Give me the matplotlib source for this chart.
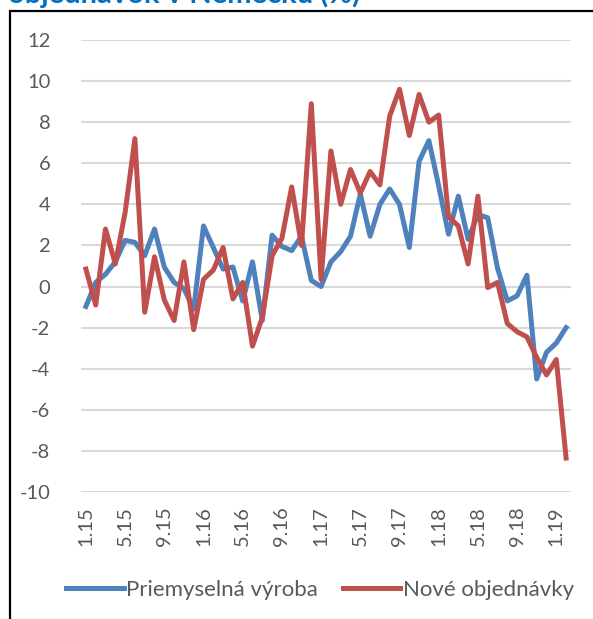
import numpy as np
import matplotlib
matplotlib.use('Agg')
import matplotlib.pyplot as plt
from matplotlib.patches import Rectangle

# Mesiace 1.15 - 2.19
months = ['1.15', '2.15', '3.15', '4.15', '5.15', '6.15', '7.15', '8.15', '9.15', '10.15', '11.15', '12.15',
          '1.16', '2.16', '3.16', '4.16', '5.16', '6.16', '7.16', '8.16', '9.16', '10.16', '11.16', '12.16',
          '1.17', '2.17', '3.17', '4.17', '5.17', '6.17', '7.17', '8.17', '9.17', '10.17', '11.17', '12.17',
          '1.18', '2.18', '3.18', '4.18', '5.18', '6.18', '7.18', '8.18', '9.18', '10.18', '11.18', '12.18',
          '1.19', '2.19']
tick_labels = ['1.15', '5.15', '9.15', '1.16', '5.16', '9.16', '1.17',
               '5.17', '9.17', '1.18', '5.18', '9.18', '1.19']

vyroba = [-0.97, 0.2, 0.6, 1.2, 2.25, 2.15, 1.5, 2.8, 0.95, 0.2,
          -0.1, -1.1, 2.95, 1.9, 0.85, 0.95, -0.7, 1.2, -1.65, 2.5,
          1.95, 1.75, 2.45, 0.3, 0.0, 1.2, 1.7, 2.45, 4.5, 2.45,
          4.0, 4.75, 4.0, 1.9, 6.1, 7.1, 4.9, 2.55, 4.4, 2.3,
          3.5, 3.35, 0.9, -0.7, -0.45, 0.55, -4.5, -3.2, -2.75, -2.0]
objednavky = [0.85, -0.9, 2.8, 1.1, 3.6, 7.2, -1.25, 1.45, -0.65, -1.65,
              1.2, -2.1, 0.35, 0.8, 1.9, -0.6, 0.2, -2.9, -1.5, 1.5,
              2.35, 4.85, 2.0, 8.9, 0.35, 6.6, 4.0, 5.7, 4.55, 5.6,
              4.95, 8.3, 9.6, 7.35, 9.35, 8.0, 8.35, 3.4, 2.95, 1.1,
              4.4, -0.05, 0.2, -1.8, -2.2, -2.45, -3.45, -4.3, -3.55, -8.35]

BLUE = '#4F81BD'
RED = '#C0504D'
GRAY = '#595959'

plt.rcParams['font.family'] = ['Lato', 'DejaVu Sans']
plt.rcParams['axes.unicode_minus'] = False

fig = plt.figure(figsize=(5.93, 6.19), dpi=100)
W, H = 593, 619

# ramcek grafu
fig.patches.append(Rectangle((10 / W, -0.1), 1.2, 1 - 11 / H + 0.1, transform=fig.transFigure,
                             fill=False, edgecolor='black', linewidth=1.6))

# odrezany nadpis (v originali je zhora orezany)
fig.text(8 / W, 1 - 3 / H, 'objednávok v Nemecku (%)', color='#0070C0', fontsize=21,
         fontweight='bold', ha='left', va='baseline')

ax = fig.add_axes([81 / W, 1 - 492 / H, 490 / W, 452 / H])
x = np.arange(len(months))
ax.plot(x, vyroba, color=BLUE, linewidth=3.6, label='Priemyselná výroba', solid_joinstyle='round')
ax.plot(x, objednavky, color=RED, linewidth=3.6, label='Nové objednávky', solid_joinstyle='round')

ax.set_xlim(-0.5, len(months) - 0.5)
ax.set_ylim(-10, 12)
ax.set_yticks(np.arange(-10, 13, 2))
ax.set_xticks(x[::4])
ax.set_xticklabels(tick_labels, rotation=90)
ax.tick_params(axis='both', length=0, colors=GRAY, labelsize=14.5)
ax.tick_params(axis='y', pad=22)
ax.tick_params(axis='x', pad=10)
ax.grid(axis='y', color='#D9D9D9', linewidth=1.5)
ax.set_axisbelow(True)
for s in ax.spines.values():
    s.set_visible(False)

fig.legend(loc='center', bbox_to_anchor=(320 / W, 1 - 590 / H), ncol=2, frameon=False,
           fontsize=16, handlelength=2.6, handletextpad=0.1, columnspacing=1.1,
           labelcolor=GRAY)

fig.savefig('out.png', dpi=100)
